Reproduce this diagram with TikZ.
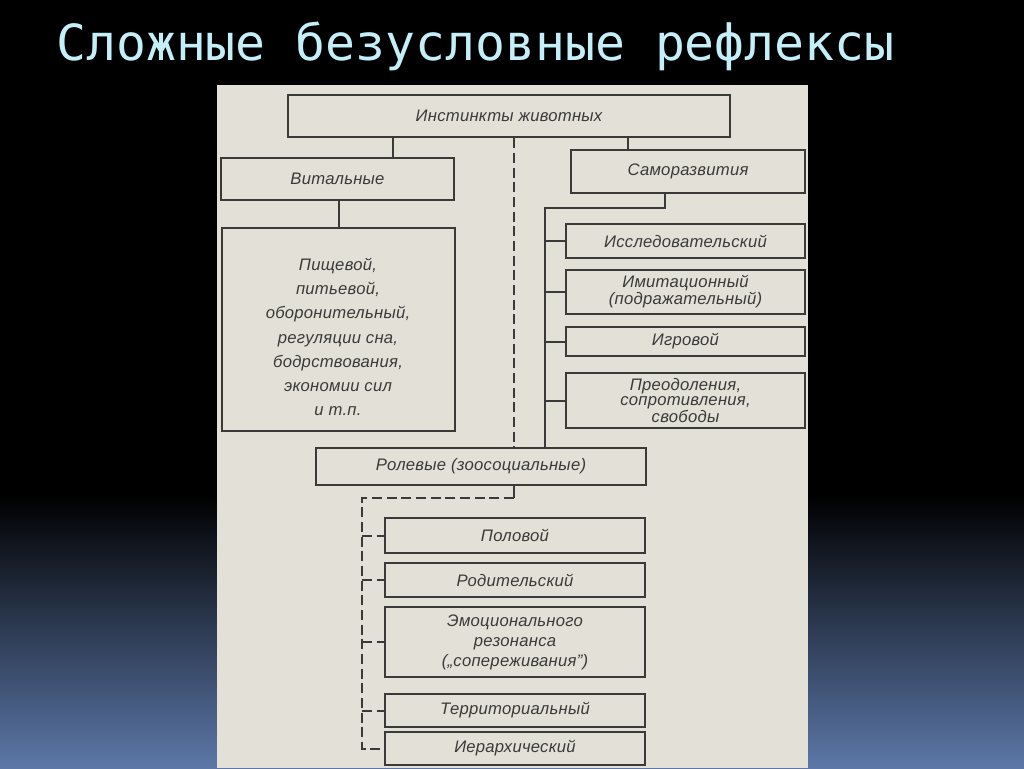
\documentclass[tikz,border=0pt]{standalone}
\usepackage{fontspec}
\newfontfamily\gost[LetterSpace=1.5]{Liberation Sans}
\newfontfamily\titlefont{DejaVu Sans Mono}
\definecolor{bgblue}{RGB}{92,119,168}
\definecolor{paper}{RGB}{226,224,215}
\definecolor{ink}{RGB}{58,58,56}
\definecolor{titlecol}{RGB}{196,238,248}
\begin{document}
\begin{tikzpicture}[x=0.75pt,y=-0.75pt,
  box/.style={draw=ink, line width=2pt, inner sep=0pt, text=ink, align=center,
    font=\gost\itshape\fontsize{12.5}{17}\selectfont},
  wh/.style 2 args={minimum width=#1*0.75pt, minimum height=#2*0.75pt},
  ls/.style={font=\gost\itshape\fontsize{12.5}{#1}\selectfont},
  conn/.style={draw=ink, line width=1.5pt},
  dconn/.style={conn, dash pattern=on 7.5pt off 3.5pt}]
\useasboundingbox (0,0) rectangle (1024,768);
\fill[black] (0,0) rectangle (1024,768);
\shade[top color=black, bottom color=bgblue] (0,495) rectangle (1024,768);
\fill[paper] (217,85) rectangle (808,768);

\node[anchor=base west, inner sep=0pt, text=titlecol,
  font=\titlefont\fontsize{37.3}{40}\selectfont] (title) at (56,60) {Сложные безусловные рефлексы};

% boxes
\node[box, wh={442}{42}] (inst) at (509,116) {Инстинкты животных};
\node[box, wh={233}{42}] (vit) at (337.5,179) {Витальные};
\node[box, wh={234}{43}] (samo) at (688,171.5) {Саморазвития};
\node[box, wh={233}{203}] (food) at (338.5,329.5) {};
\node[box, draw=none, ls=18.2pt] (foodtxt) at (338,337) {Пищевой,\\питьевой,\\оборонительный,\\регуляции сна,\\бодрствования,\\экономии сил\\и т.п.};
\node[box, wh={239}{34}] (res) at (685.5,241) {Исследовательский};
\node[box, wh={239}{44}, ls=12.75pt] (imit) at (685.5,292) {Имитационный\\(подражательный)};
\node[box, wh={239}{29}] (play) at (685.5,341.5) {Игровой};
\node[box, wh={239}{55}, ls=11.25pt] (over) at (685.5,400.5) {Преодоления,\\сопротивления,\\свободы};
\node[box, wh={330}{37}] (role) at (481,466.5) {Ролевые (зоосоциальные)};
\node[box, wh={260}{35}] (sex) at (515,535.5) {Половой};
\node[box, wh={260}{34}] (par) at (515,580) {Родительский};
\node[box, wh={260}{70}, ls=15pt] (emo) at (515,642) {Эмоционального\\резонанса\\(„сопереживания”)};
\node[box, wh={260}{33}] (terr) at (515,710.5) {Территориальный};
\node[box, wh={260}{33}] (hier) at (515,748.5) {Иерархический};

% connectors
\coordinate (xa) at (393,0);
\coordinate (xb) at (628,0);
\coordinate (xc) at (339,0);
\coordinate (xd) at (514,0);
\coordinate (xe) at (665,0);
\coordinate (br) at (545,208);
\coordinate (rl) at (514,498);
\coordinate (ld) at (362,498);

\draw[conn] (inst.south -| xa) -- (vit.north -| xa);
\draw[conn] (inst.south -| xb) -- (samo.north -| xb);
\draw[conn] (vit.south -| xc) -- (food.north -| xc);
\draw[dconn] (inst.south -| xd) -- (role.north -| xd);
\draw[conn] (samo.south -| xe) |- (br) -- (role.north -| br);
\foreach \n in {res,imit,play,over} \draw[conn] (\n.west -| br) -- (\n.west);
\draw[conn] (role.south -| rl) -- (rl);
\draw[dconn] (rl) -- (ld) |- (hier.west);
\foreach \n in {sex,par,emo,terr} \draw[dconn] (\n.west -| ld) -- (\n.west);
\end{tikzpicture}
\end{document}
